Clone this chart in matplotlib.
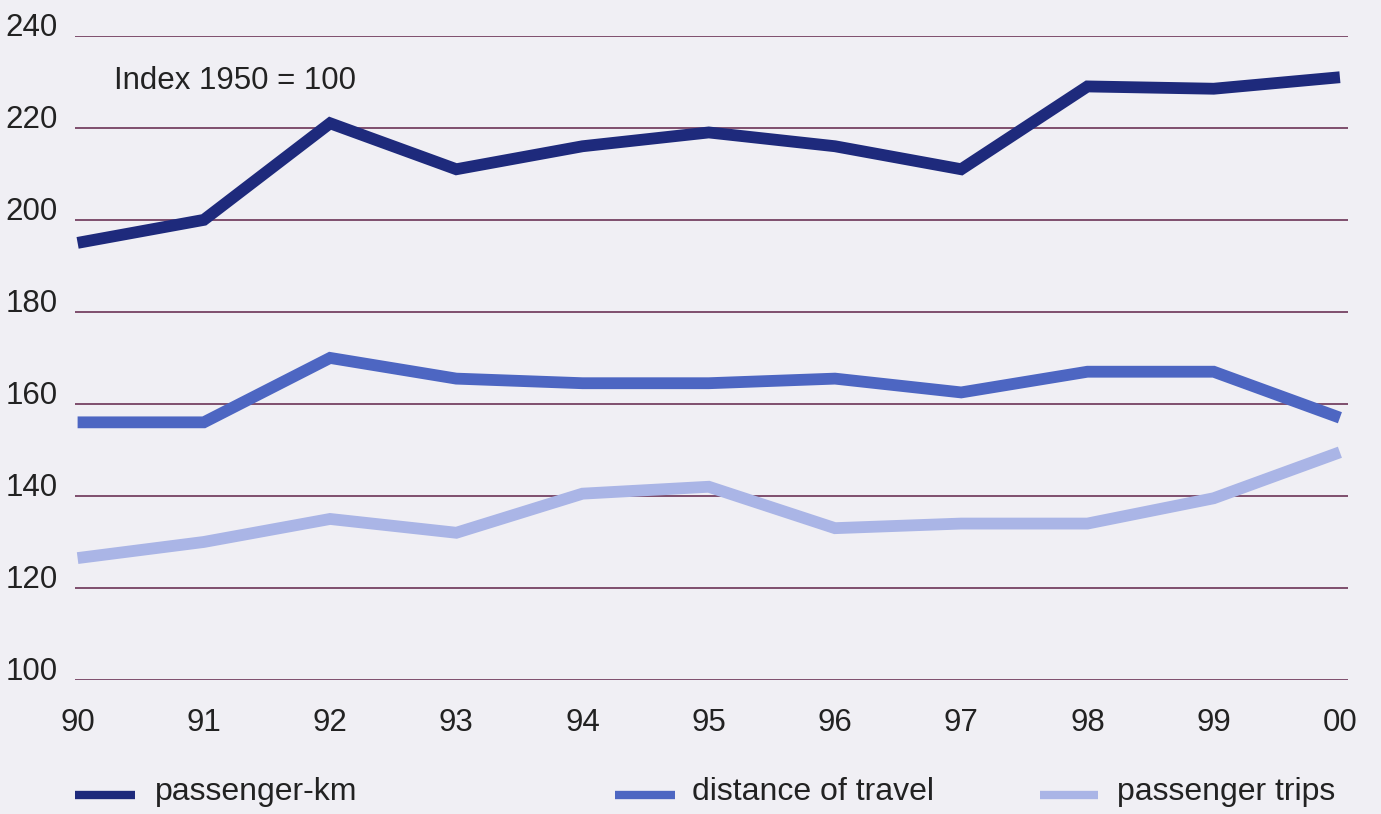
import matplotlib
matplotlib.use("Agg")
import matplotlib.pyplot as plt
from matplotlib.lines import Line2D

# ============================================================
# Data (Index 1950 = 100)
# ============================================================
years = ["90", "91", "92", "93", "94", "95", "96", "97", "98", "99", "00"]
passenger_km = [195, 200, 221, 211, 216, 219, 216, 211, 229, 228.5, 231]
distance_of_travel = [156, 156, 170, 165.5, 164.5, 164.5, 165.5, 162.5, 167, 167, 157]
passenger_trips = [126.5, 130, 135, 132, 140.5, 142, 133, 134, 134, 139.5, 149.5]
y_ticks = [100, 120, 140, 160, 180, 200, 220, 240]

# ============================================================
# Style
# ============================================================
BG = "#f0eff4"
GRID = "#6b3356"
TEXT = "#222222"
COLORS = {
    "passenger-km": "#1e2a7c",
    "distance of travel": "#4d66c2",
    "passenger trips": "#aab5e6",
}
FS = 22.5
plt.rcParams["font.family"] = ["Liberation Sans", "DejaVu Sans"]

fig = plt.figure(figsize=(13.81, 8.14), dpi=100, facecolor=BG)
ax = fig.add_axes([0.054, 0.1646, 0.922, 0.7914])
ax.set_facecolor(BG)

x = list(range(len(years)))
series = [
    ("passenger-km", passenger_km),
    ("distance of travel", distance_of_travel),
    ("passenger trips", passenger_trips),
]
for name, vals in series:
    ax.plot(x, vals, color=COLORS[name], lw=8.5, solid_capstyle="butt",
            solid_joinstyle="miter", clip_on=False, zorder=3)

ax.set_ylim(100, 240)
ax.set_xlim(-0.024, 10.063)
ax.set_yticks(y_ticks)
ax.set_xticks(x)
ax.set_xticklabels(years)
ax.grid(axis="y", color=GRID, lw=1.2)
ax.grid(axis="x", visible=False)
ax.set_axisbelow(True)
for s in ax.spines.values():
    s.set_visible(False)
ax.tick_params(axis="both", length=0, labelsize=FS, labelcolor=TEXT)
ax.tick_params(axis="x", pad=20)
ax.tick_params(axis="y", pad=12)
for lab in ax.get_yticklabels():
    lab.set_verticalalignment("baseline")

ax.text(0.031, 0.93, "Index 1950 = 100", transform=ax.transAxes,
        fontsize=FS, color=TEXT, va="center", ha="left")

# ============================================================
# Legend (manual, bottom row)
# ============================================================
W, H = 1381, 814
legend_pos = [
    ("passenger-km", 75, 135, 155),
    ("distance of travel", 615, 675, 692),
    ("passenger trips", 1040, 1098, 1117),
]
yl = 1 - 795 / H
for name, x0, x1, xt in legend_pos:
    fig.add_artist(Line2D([x0 / W, x1 / W], [yl, yl], transform=fig.transFigure,
                          color=COLORS[name], lw=6, solid_capstyle="butt"))
    fig.text(xt / W, 1 - 792 / H, name, fontsize=23, color=TEXT,
             va="center", ha="left")

fig.savefig("out.png", dpi=100, facecolor=BG)
